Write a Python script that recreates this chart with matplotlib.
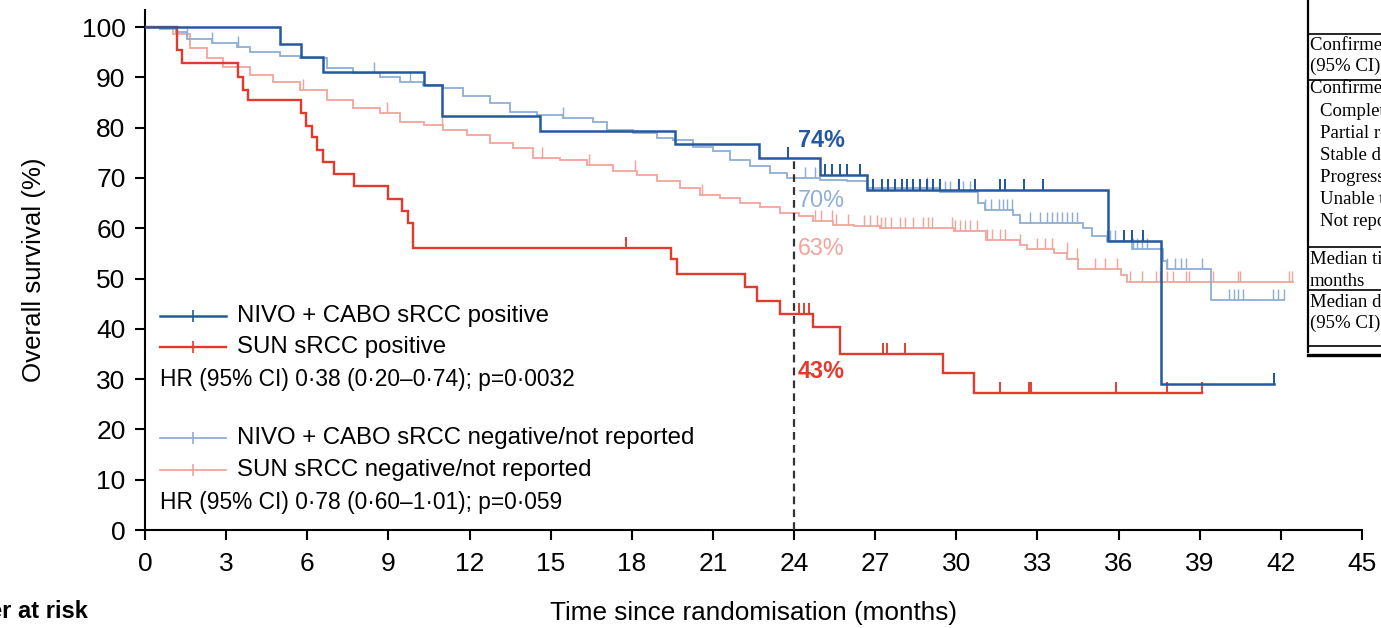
import numpy as np
import matplotlib
matplotlib.use('Agg')
import matplotlib.pyplot as plt
from matplotlib.lines import Line2D

plt.rcParams['font.family'] = ['Liberation Sans', 'DejaVu Sans']

# Kaplan-Meier step knots: time (months) of each drop and survival (%) after it
nc_pos_t = [0, 5.0, 5.77, 6.6, 10.3, 11.0, 14.6, 19.6, 22.7, 24.96, 26.7, 35.6, 37.56]
nc_pos_s = [100, 96.7, 94.0, 91.0, 88.5, 82.4, 79.4, 76.8, 74.0, 70.6, 67.6, 57.5, 29.1]
nc_pos_end = 41.75
nc_pos_cens = [23.77, 25.15, 25.4, 25.7, 25.95, 26.44, 26.93, 27.24, 27.49, 27.73, 27.98,
               28.16, 28.41, 28.65, 28.9, 29.15, 29.4, 30.1, 30.7, 31.6, 31.8, 32.5, 33.2,
               36.2, 36.5, 36.9, 41.75]

sun_pos_t = [0, 1.17, 1.36, 3.45, 3.64, 3.82, 5.76, 5.94, 6.16, 6.35, 6.57, 7.0, 7.74, 8.97,
             9.49, 9.74, 9.92, 19.44, 19.66, 22.19, 22.62, 23.48, 24.69, 25.7, 29.5, 30.67]
sun_pos_s = [100, 95.4, 92.8, 90.1, 87.5, 85.5, 82.9, 80.4, 78.2, 75.6, 73.1, 70.8, 68.5, 65.8,
             63.5, 61.0, 56.1, 53.9, 51.0, 48.3, 45.6, 43.0, 40.4, 34.9, 31.2, 27.3]
sun_pos_end = 39.1
sun_pos_cens = [17.77, 24.2, 24.35, 24.55, 27.3, 27.45, 28.1, 31.6, 32.7, 32.75, 35.9, 37.8, 39.1]

nc_neg_t = [0, 0.55, 1.15, 1.54, 2.46, 3.39, 3.88, 5.0, 5.73, 6.72, 7.7, 8.69, 9.43, 10.27,
            11.03, 11.77, 12.76, 13.5, 14.49, 15.45, 16.58, 17.07, 18.06, 18.92, 19.54, 20.28,
            21.02, 21.63, 22.37, 23.1, 23.73, 24.96, 25.95, 26.69, 29.4, 30.8, 31.06, 32.1,
            32.36, 34.7, 35.0, 35.56, 36.5, 37.66, 37.78, 39.4]
nc_neg_s = [100, 99.7, 99.0, 97.7, 96.8, 96.1, 95.0, 94.3, 93.8, 91.8, 90.8, 90.1, 89.1, 88.5,
            87.8, 86.2, 84.9, 83.2, 82.5, 81.9, 81.2, 79.6, 78.9, 77.9, 77.6, 76.1,
            75.3, 73.6, 72.3, 71.0, 70.0, 69.6, 69.3, 68.0, 67.3, 65.0, 63.7, 62.7,
            61.0, 60.0, 58.4, 57.5, 55.8, 53.4, 51.8, 45.8]
nc_neg_end = 42.1
nc_neg_cens = [1.54, 2.46, 3.43, 8.48, 9.8, 15.45, 24.4, 24.78, 28.91, 29.58, 29.77, 30.07,
               30.26, 30.51, 31.06, 31.3, 31.56, 31.74, 31.89, 32.05, 32.73, 33.1, 33.35,
               33.53, 33.72, 33.9, 34.08, 34.27, 34.45, 35.56, 35.7, 35.87, 36.55, 36.67,
               36.86, 37.05, 37.8, 38.1, 38.3, 38.5, 39.1, 40.1, 40.25, 40.4, 40.6, 41.7,
               41.9, 42.1]

sun_neg_t = [0, 1.04, 1.66, 2.28, 2.9, 3.88, 4.75, 5.73, 6.72, 7.7, 8.69, 9.43, 10.3, 11.03,
             11.9, 12.76, 13.62, 14.36, 15.35, 16.33, 17.32, 18.18, 18.92, 19.78, 20.52,
             21.26, 22.0, 22.74, 23.48, 24.2, 24.7, 25.45, 26.2, 27.18, 29.9, 31.1, 32.36,
             32.6, 33.6, 34.1, 34.5, 36.1, 36.3]
sun_neg_s = [100, 98.7, 95.8, 93.8, 92.1, 90.5, 89.1, 87.5, 85.5, 83.9, 82.9, 81.2, 80.6, 79.6,
             78.6, 76.9, 75.9, 73.9, 73.6, 72.6, 71.3, 70.6, 69.3, 68.0, 66.7,
             66.0, 65.0, 64.2, 63.0, 62.5, 61.4, 60.7, 60.4, 60.1, 59.4, 57.7, 56.7,
             55.8, 55.1, 53.8, 51.8, 50.8, 49.3]
sun_neg_end = 42.45
sun_neg_cens = [5.83, 8.94, 11.0, 14.67, 16.4, 18.12, 20.59, 24.78, 25.0, 25.4, 25.55, 26.0,
                26.57, 26.8, 27.05, 27.2, 27.35, 27.6, 27.9, 28.1, 28.4, 28.78, 28.97, 29.09,
                29.83, 29.95, 30.14, 30.32, 30.51, 30.76, 31.13, 31.31, 31.62, 31.8, 32.36,
                32.98, 33.29, 33.53, 34.08, 34.45, 35.13, 35.5, 35.93, 36.43, 36.86, 37.4,
                37.54, 37.8, 38.0, 38.5, 38.6, 39.5, 40.4, 40.5, 42.3, 42.4]

legend_labels = ['NIVO + CABO sRCC positive', 'SUN sRCC positive',
                 'NIVO + CABO sRCC negative/not reported', 'SUN sRCC negative/not reported']
hr_labels = ['HR (95% CI) 0·38 (0·20–0·74); p=0·0032',
             'HR (95% CI) 0·78 (0·60–1·01); p=0·059']
landmark = 24
landmark_labels = ['74%', '70%', '63%', '43%']

c_nc_pos = '#24599f'
c_sun_pos = '#e5392c'
c_nc_neg = '#8eaed8'
c_sun_neg = '#f3a49c'

W, H = 1381, 628
fig = plt.figure(figsize=(W / 100, H / 100), dpi=100)
ax = fig.add_axes([145 / W, 1 - 530 / H, 1217 / W, 520 / H])


def km(t, s, end, cens, color, lw, z):
    t = np.asarray(t, float)
    s = np.asarray(s, float)
    ax.step(np.append(t, end), np.append(s, s[-1]), where='post', color=color, lw=lw,
            zorder=z, solid_joinstyle='miter')
    c = np.asarray(cens, float)
    cy = s[np.searchsorted(t, c, side='right') - 1]
    ax.plot(c, cy, ls='none', marker=2, ms=8, mew=lw * 0.8, color=color, zorder=z)


km(sun_neg_t, sun_neg_s, sun_neg_end, sun_neg_cens, c_sun_neg, 1.3, 2)
km(nc_neg_t, nc_neg_s, nc_neg_end, nc_neg_cens, c_nc_neg, 1.3, 3)
km(sun_pos_t, sun_pos_s, sun_pos_end, sun_pos_cens, c_sun_pos, 1.7, 4)
km(nc_pos_t, nc_pos_s, nc_pos_end, nc_pos_cens, c_nc_pos, 1.8, 5)

# 24-month landmark
lm_top = nc_pos_s[np.searchsorted(nc_pos_t, landmark, side='right') - 1]
ax.plot([landmark, landmark], [0, lm_top], color='#333333', lw=1.6, dashes=(3.5, 2.3), zorder=6)
lab_y = [77.4, 65.6, 56.0, 31.5]
lab_c = [c_nc_pos, c_nc_neg, c_sun_neg, c_sun_pos]
lab_w = ['bold', 'normal', 'normal', 'bold']
for txt, yy, cc, ww in zip(landmark_labels, lab_y, lab_c, lab_w):
    ax.text(landmark + 0.15, yy, txt, color=cc, fontsize=16.8, fontweight=ww, va='center', ha='left')

ax.set_xlim(0, 45)
ax.set_ylim(0, 103.4)
ax.set_xticks(np.arange(0, 46, 3))
ax.set_yticks(np.arange(0, 101, 10))
ax.spines['top'].set_visible(False)
ax.spines['right'].set_visible(False)
for sp in ('left', 'bottom'):
    ax.spines[sp].set_linewidth(1.5)
ax.tick_params(length=7, width=1.5, labelsize=19, pad=7)
ax.tick_params(axis='x', pad=9)
ax.set_xlabel('Time since randomisation (months)', fontsize=18.8, labelpad=18)
ax.set_ylabel('Overall survival (%)', fontsize=18.6, labelpad=26)

# legend block drawn by hand, HR rows sit under each pair
rows = [0.4115, 0.352, 0.177, 0.1154]
for yy, lab, cc, lw in zip(rows, legend_labels, [c_nc_pos, c_sun_pos, c_nc_neg, c_sun_neg],
                           [1.8, 1.7, 1.3, 1.3]):
    ax.plot([0.0123, 0.0666], [yy, yy], color=cc, lw=lw, transform=ax.transAxes)
    ax.plot([0.0395], [yy], marker='|', ms=9, mew=1.2, color=cc, transform=ax.transAxes)
    ax.text(0.0756, yy, lab, fontsize=17.3, va='center', ha='left', transform=ax.transAxes)
for yy, lab in zip([0.2885, 0.0538], hr_labels):
    ax.text(0.0123, yy, lab, fontsize=16.4, va='center', ha='left', transform=ax.transAxes)

fig.text(88 / W, 1 - 612 / H, 'Number at risk', fontsize=17, fontweight='bold', ha='right', va='center')

# response table at the right edge
tx = 1310 / W
tbl_rows = [(46, 'Confirmed ORR, %', 0), (66, '(95% CI)', 0), (88, 'Confirmed BOR, n (%)', 0),
            (112, 'Complete response', 1), (133, 'Partial response', 1), (155, 'Stable disease', 1),
            (177, 'Progressive disease', 1), (199, 'Unable to determine', 1), (222, 'Not reported', 1),
            (259, 'Median time to response,', 0), (281, 'months', 0),
            (302, 'Median duration of response,', 0), (323, '(95% CI)', 0)]
for yy, txt, ind in tbl_rows:
    fig.text(tx + ind * 10 / W, 1 - yy / H, txt, family='Liberation Serif', fontsize=13.5,
             ha='left', va='center')
fig.add_artist(Line2D([1308 / W, 1308 / W], [1, 1 - 352 / H], color='black', lw=1.6,
                      transform=fig.transFigure))
for yy, lw in [(34, 1.2), (80, 1.2), (247, 1.2), (290, 1.2), (346, 1.2), (355, 2.4)]:
    fig.add_artist(Line2D([1308 / W, 1], [1 - yy / H, 1 - yy / H], color='black', lw=lw,
                          transform=fig.transFigure))

fig.savefig('out.png', dpi=100)
